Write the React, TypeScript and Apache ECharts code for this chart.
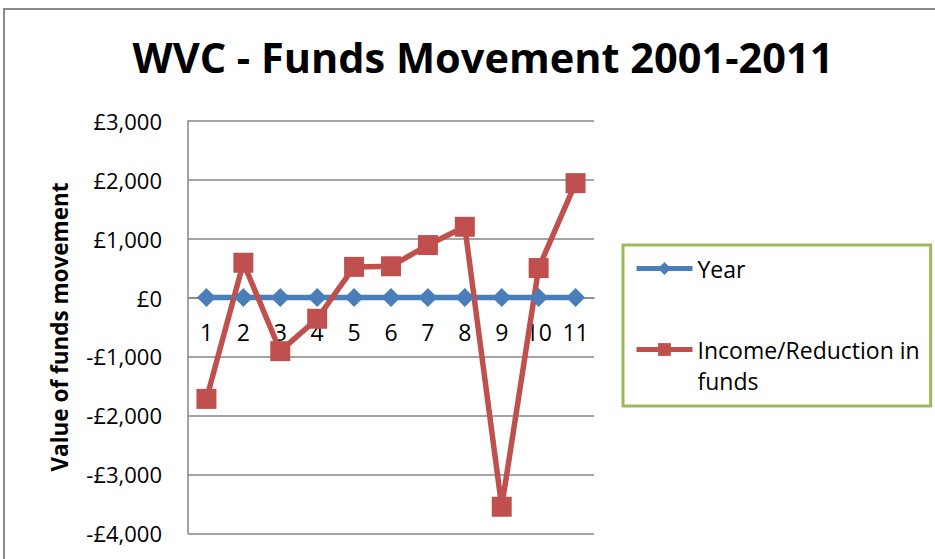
import React, { useEffect, useRef } from "react";
import * as echarts from "echarts";

const categories = ["1", "2", "3", "4", "5", "6", "7", "8", "9", "10", "11"];
const yearValues = [0, 0, 0, 0, 0, 0, 0, 0, 0, 0, 0];
const fundsValues = [-1720, 590, -910, -360, 520, 530, 890, 1200, -3550, 500, 1940];
const seriesNames = ["Year", "Income/Reduction in funds"];
const titleText = "WVC - Funds Movement 2001-2011";
const yAxisName = "Value of funds movement";
const yMin = -4000;
const yMax = 3000;
const yStep = 1000;

const FONT = "Open Sans";
const GRID_TOP = 120.7;
const GRID_BOTTOM = 25.7;
const CHART_H = 559;

function fmtPound(v: number): string {
  const abs = Math.abs(v).toLocaleString("en-GB");
  return (v < 0 ? "-" : "") + "£" + abs;
}

export default function App() {
  const ref = useRef<HTMLDivElement>(null);
  useEffect(() => {
    if (!ref.current) return;
    const chart = echarts.init(ref.current, undefined, { renderer: "svg" });
    const plotH = CHART_H - GRID_TOP - GRID_BOTTOM;
    // place category axis at the value axis' zero line
    const zeroOffset = -(plotH * (0 - yMin)) / (yMax - yMin);
    chart.setOption({
      animation: false,
      backgroundColor: "#ffffff",
      title: {
        text: titleText,
        left: 478,
        top: 31,
        textAlign: "center",
        textStyle: { fontFamily: FONT, fontWeight: "bold", fontSize: 41.5, color: "#000" },
      },
      graphic: [
        {
          type: "rect",
          shape: { x: 4, y: 9, width: 1000, height: 1000 },
          style: { fill: "none", stroke: "#898989", lineWidth: 2 },
          silent: true,
          z: -1,
        },
      ],
      legend: {
        orient: "vertical",
        left: 623,
        top: 245,
        padding: [8, 11, 10, 11],
        itemGap: 19,
        itemWidth: 56,
        itemHeight: 16,
        borderColor: "#9BBB59",
        borderWidth: 3,
        lineStyle: { width: 5 },
        textStyle: { fontFamily: FONT, fontSize: 23, color: "#000", lineHeight: 31 },
        formatter: (name: string) =>
          name === seriesNames[1] ? " \nIncome/Reduction in\nfunds" : name,
        data: [{ name: seriesNames[0] }, { name: seriesNames[1] }],
      },
      grid: {
        left: 188,
        right: 341,
        top: GRID_TOP,
        bottom: GRID_BOTTOM,
        containLabel: false,
        outerBoundsMode: "none",
      },
      xAxis: {
        type: "category",
        data: categories,
        boundaryGap: true,
        position: "bottom",
        offset: zeroOffset,
        axisLine: { show: true, onZero: false, lineStyle: { color: "#868686", width: 1.5 } },
        axisTick: { show: false },
        axisLabel: { fontFamily: FONT, fontSize: 23, color: "#000", margin: 23 },
        splitLine: { show: false },
      },
      yAxis: {
        type: "value",
        min: yMin,
        max: yMax,
        interval: yStep,
        name: yAxisName,
        nameLocation: "middle",
        nameGap: 117,
        nameTextStyle: { fontFamily: FONT, fontWeight: "bold", fontSize: 22.5, color: "#000" },
        axisLine: { show: true, lineStyle: { color: "#868686", width: 1.5 } },
        axisTick: { show: false },
        axisLabel: {
          fontFamily: FONT,
          fontSize: 22,
          color: "#000",
          margin: 26,
          formatter: (v: number) => fmtPound(v),
        },
        splitLine: { show: true, lineStyle: { color: "#868686", width: 1.5 } },
      },
      series: [
        {
          name: seriesNames[0],
          type: "line",
          data: yearValues,
          symbol: "diamond",
          symbolSize: 19,
          color: "#4A7EBB",
          lineStyle: { width: 5.5, color: "#4A7EBB" },
          itemStyle: { color: "#4A7EBB" },
        },
        {
          name: seriesNames[1],
          type: "line",
          data: fundsValues,
          symbol: "rect",
          symbolSize: 20,
          color: "#C0504D",
          lineStyle: { width: 5.5, color: "#C0504D" },
          itemStyle: { color: "#C0504D" },
        },
      ],
    });
    return () => chart.dispose();
  }, []);
  return (
    <div
      ref={ref}
      style={{ position: "fixed", left: 0, top: 0, width: 935, height: CHART_H }}
    />
  );
}
